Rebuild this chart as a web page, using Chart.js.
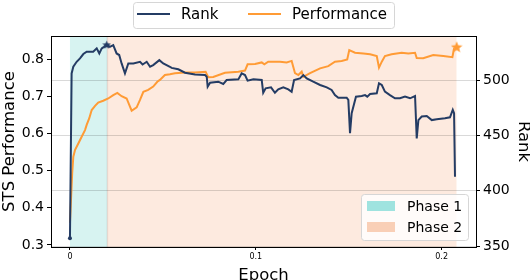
<!DOCTYPE html>
<html>
<head>
<meta charset="utf-8">
<script src="https://cdn.jsdelivr.net/npm/chart.js@4"></script>
<style>
    html, body { margin: 0; padding: 0; background: #fff; }
    #chart { display: block; }
</style>
</head>
<body>
<canvas id="chart" width="530" height="280"></canvas>
<script>
// values
const rankEpoch = [0, 0.0009, 0.0018, 0.0036, 0.0054, 0.0072, 0.0090, 0.0125, 0.0144, 0.0158, 0.0171, 0.0183, 0.0198,
    0.0215, 0.0233, 0.0251, 0.0265, 0.0278, 0.0296, 0.0314, 0.0341, 0.0377, 0.0391, 0.0413, 0.0431, 0.0448, 0.0481,
    0.0502, 0.0538, 0.0547, 0.0583, 0.0619, 0.0673, 0.0727, 0.0736, 0.0741, 0.0754, 0.0798, 0.0825, 0.0843, 0.0906,
    0.0924, 0.0942, 0.0956, 0.0987, 0.1032, 0.1040, 0.1053, 0.1082, 0.1103, 0.1121, 0.1148, 0.1175, 0.1193, 0.1206,
    0.1238, 0.1256, 0.1274, 0.1309, 0.1346, 0.1382, 0.1408, 0.1426, 0.1444, 0.1489, 0.1498, 0.1507, 0.1516, 0.1539,
    0.1570, 0.1588, 0.1600, 0.1615, 0.1651, 0.1663, 0.1678, 0.1695, 0.1722, 0.1749, 0.1776, 0.1803, 0.1830, 0.1857,
    0.1866, 0.1875, 0.1893, 0.1920, 0.1947, 0.1974, 0.2018, 0.2045, 0.2060, 0.2067, 0.2072];
const rankValues = [357, 506, 512, 516.5, 519.6, 523.5, 525.6, 525.6, 528.6, 524, 528.6, 530, 532,
    530, 531.6, 524, 522.6, 515, 506, 515, 515, 516.5, 514, 516.5, 512, 513.5, 518,
    515, 512, 511, 509.7, 506.6, 505, 504.5, 503, 494, 497.6, 498.5, 496.4, 500, 500.6,
    506, 504.5, 499.4, 500.6, 500, 488.5, 492.5, 493.4, 488.5, 491.6, 493.4, 491.6, 489.4, 500,
    501.5, 504.5, 501.5, 498.5, 495.5, 493.4, 491, 486.4, 484, 484, 482, 452, 470, 485,
    485.5, 486.4, 485, 487.4, 488, 497, 495.5, 489.5, 486.4, 483.5, 483.5, 485, 483.5, 485.5,
    447.3, 463.8, 467, 467.5, 463.8, 464.5, 465.4, 466.3, 473, 470, 412.6];

const perfEpoch = [0, 0.0012, 0.0018, 0.0027, 0.0045, 0.0063, 0.0081, 0.0090, 0.0104, 0.0117, 0.0135, 0.0152,
    0.0179, 0.0206, 0.0233, 0.0255, 0.0278, 0.0305, 0.0323, 0.0332, 0.0359, 0.0377, 0.0395, 0.0421, 0.0448,
    0.0470, 0.0484, 0.0511, 0.0538, 0.0565, 0.0619, 0.0673, 0.0730, 0.0744, 0.0771, 0.0834, 0.0906, 0.0942,
    0.0956, 0.0996, 0.1032, 0.1046, 0.1067, 0.1130, 0.1166, 0.1193, 0.1211, 0.1229, 0.1247, 0.1256, 0.1292,
    0.1346, 0.1390, 0.1426, 0.1462, 0.1492, 0.1503, 0.1534, 0.1579, 0.1615, 0.1651, 0.1663, 0.1678, 0.1695,
    0.1731, 0.1785, 0.1821, 0.1857, 0.1866, 0.1901, 0.1955, 0.2009, 0.2058, 0.2067];
const perfValues = [0.36, 0.493, 0.537, 0.555, 0.573, 0.591, 0.609, 0.623, 0.641, 0.663, 0.674, 0.683,
    0.688, 0.694, 0.703, 0.709, 0.700, 0.694, 0.672, 0.661, 0.670, 0.690, 0.712, 0.717, 0.726,
    0.739, 0.744, 0.757, 0.759, 0.762, 0.764, 0.764, 0.766, 0.751, 0.752, 0.763, 0.766, 0.769,
    0.786, 0.787, 0.791, 0.786, 0.793, 0.793, 0.791, 0.795, 0.762, 0.757, 0.766, 0.752, 0.762,
    0.775, 0.781, 0.793, 0.795, 0.799, 0.824, 0.817, 0.815, 0.813, 0.808, 0.777, 0.793, 0.808,
    0.813, 0.817, 0.815, 0.817, 0.803, 0.802, 0.811, 0.808, 0.805, 0.829];

// marked points: rank peak and final performance
const rankPeakEpoch = [0.0198];
const rankPeakValue = [532];
const perfBestEpoch = [0.2081];
const perfBestValue = [0.833];

const epochTicks = [0, 0.1, 0.2];
const perfTicks = [0.3, 0.4, 0.5, 0.6, 0.7, 0.8];
const rankTicks = [350, 400, 450, 500];

const seriesLabels = ['Rank', 'Performance'];
const phaseLabels = ['Phase 1', 'Phase 2'];
const phaseStart = [0, 0.02];
const phaseEnd = [0.02, 0.208];

const NAVY = '#243c64';
const ORANGE = '#ff9b35';
const PHASE_FILL = ['#d7f3f1', '#fdeadf'];
const PHASE_SWATCH = ['#9fe3df', '#f9cfb6'];
const FONT = "'DejaVu Sans', sans-serif";

function toPoints(xs, ys) {
    return xs.map((x, i) => ({ x: x, y: ys[i] }));
}

// filled five point star for the marker points
function starImage(size, color) {
    const c = document.createElement('canvas');
    c.width = size;
    c.height = size;
    const g = c.getContext('2d');
    const r = size / 2;
    g.beginPath();
    for (let i = 0; i < 10; i++) {
        const rad = i % 2 === 0 ? r : r * 0.45;
        const a = -Math.PI / 2 + i * Math.PI / 5;
        const px = r + rad * Math.cos(a);
        const py = r + rad * Math.sin(a) + size * 0.05;
        if (i === 0) g.moveTo(px, py); else g.lineTo(px, py);
    }
    g.closePath();
    g.fillStyle = color;
    g.fill();
    return c;
}

function fixTicks(values) {
    return scale => { scale.ticks = values.map(v => ({ value: v })); };
}

const decorations = {
    id: 'decorations',
    beforeDraw(chart) {
        const { ctx, chartArea: a, scales } = chart;
        ctx.save();
        phaseStart.forEach((s, i) => {
            const x0 = scales.x.getPixelForValue(s);
            const x1 = scales.x.getPixelForValue(phaseEnd[i]);
            ctx.fillStyle = PHASE_FILL[i];
            ctx.fillRect(x0, a.top, x1 - x0, a.bottom - a.top);
        });
        // faint edge where the two phases meet
        ctx.fillStyle = 'rgba(120,120,120,0.18)';
        ctx.fillRect(scales.x.getPixelForValue(phaseEnd[0]) - 0.5, a.top, 1.5, a.bottom - a.top);
        ctx.restore();
    },
    afterDraw(chart) {
        const { ctx, chartArea: a } = chart;
        ctx.save();
        // top spine
        ctx.strokeStyle = '#000';
        ctx.lineWidth = 1;
        ctx.beginPath();
        ctx.moveTo(a.left, a.top + 0.5);
        ctx.lineTo(a.right + 0.5, a.top + 0.5);
        ctx.stroke();

        // series legend above the plot
        ctx.fillStyle = 'rgba(255,255,255,0.8)';
        ctx.strokeStyle = '#d6d6d6';
        ctx.beginPath();
        ctx.roundRect(133.5, 2.5, 261, 26, 3);
        ctx.fill();
        ctx.stroke();
        const colors = [NAVY, ORANGE];
        const itemX = [137, 248];
        ctx.font = '15px ' + FONT;
        ctx.textBaseline = 'middle';
        seriesLabels.forEach((label, i) => {
            ctx.strokeStyle = colors[i];
            ctx.lineWidth = 2;
            ctx.beginPath();
            ctx.moveTo(itemX[i], 14);
            ctx.lineTo(itemX[i] + 33, 14);
            ctx.stroke();
            ctx.fillStyle = '#000';
            ctx.fillText(label, itemX[i] + 44, 15);
        });

        // phase legend, lower right inside the plot
        const bx = a.right - 115, by = a.bottom - 53;
        ctx.fillStyle = 'rgba(255,255,255,0.8)';
        ctx.strokeStyle = '#d6d6d6';
        ctx.lineWidth = 1;
        ctx.beginPath();
        ctx.roundRect(bx + 0.5, by + 0.5, 107, 46, 3);
        ctx.fill();
        ctx.stroke();
        ctx.font = '14px ' + FONT;
        phaseLabels.forEach((label, i) => {
            const y = by + 7 + i * 21;
            ctx.fillStyle = PHASE_SWATCH[i];
            ctx.fillRect(bx + 6, y, 28, 10);
            ctx.fillStyle = '#000';
            ctx.fillText(label, bx + 46, y + 6);
        });
        ctx.restore();
    }
};

new Chart(document.getElementById('chart'), {
    type: 'line',
    data: {
        datasets: [
            {
                label: 'rank peak',
                data: toPoints(rankPeakEpoch, rankPeakValue),
                yAxisID: 'y1',
                showLine: false,
                pointStyle: starImage(9, NAVY),
                pointRadius: 5
            },
            {
                label: seriesLabels[0],
                data: toPoints(rankEpoch, rankValues),
                yAxisID: 'y1',
                borderColor: NAVY,
                borderWidth: 2,
                pointRadius: 0,
                tension: 0
            },
            {
                label: seriesLabels[1],
                data: toPoints(perfEpoch, perfValues),
                yAxisID: 'y',
                borderColor: ORANGE,
                borderWidth: 2,
                pointRadius: 0,
                tension: 0
            },
            {
                label: 'rank start',
                data: toPoints([rankEpoch[0]], [rankValues[0]]),
                yAxisID: 'y1',
                showLine: false,
                pointRadius: 2,
                backgroundColor: NAVY,
                borderWidth: 0
            },
            {
                label: 'best performance',
                data: toPoints(perfBestEpoch, perfBestValue),
                yAxisID: 'y',
                showLine: false,
                pointStyle: starImage(12, ORANGE),
                pointRadius: 6
            }
        ]
    },
    options: {
        responsive: false,
        animation: false,
        devicePixelRatio: 1,
        layout: { padding: { top: 36, left: 0, right: 0, bottom: 0 } },
        plugins: {
            legend: { display: false },
            tooltip: { enabled: false }
        },
        scales: {
            x: {
                type: 'linear',
                min: -0.0102,
                max: 0.2185,
                afterBuildTicks: fixTicks(epochTicks),
                afterFit: s => { s.height = 33; s.paddingLeft = 0; s.paddingRight = 0; },
                ticks: {
                    color: '#000',
                    font: { family: FONT, size: 8 },
                    padding: 2,
                    maxRotation: 0,
                    callback: v => String(v)
                },
                grid: { drawOnChartArea: false, tickLength: 3, tickColor: '#000' },
                border: { color: '#000', width: 1 },
                title: {
                    display: true,
                    text: 'Epoch',
                    color: '#000',
                    font: { family: FONT, size: 16.5 },
                    padding: { top: 0, bottom: -6 }
                }
            },
            y: {
                type: 'linear',
                position: 'left',
                min: 0.2946,
                max: 0.862,
                afterBuildTicks: fixTicks(perfTicks),
                afterFit: s => { s.width = 51; s.paddingTop = 0; s.paddingBottom = 0; },
                ticks: {
                    color: '#000',
                    font: { family: FONT, size: 14 },
                    padding: 3,
                    callback: v => v.toFixed(1)
                },
                grid: { drawOnChartArea: false, tickLength: 4, tickColor: '#000' },
                border: { color: '#000', width: 1 },
                title: {
                    display: true,
                    text: 'STS Performance',
                    color: '#000',
                    font: { family: FONT, size: 16.5 },
                    padding: { top: 0, bottom: 0 }
                }
            },
            y1: {
                type: 'linear',
                position: 'right',
                min: 349.1,
                max: 539.8,
                afterBuildTicks: fixTicks(rankTicks),
                afterFit: s => { s.width = 54; s.paddingTop = 0; s.paddingBottom = 0; },
                ticks: {
                    color: '#000',
                    font: { family: FONT, size: 14 },
                    padding: 3,
                    callback: v => String(v)
                },
                grid: { color: 'rgba(0,0,0,0.15)', lineWidth: 1, tickLength: 4, tickColor: '#000' },
                border: { color: '#000', width: 1 },
                title: {
                    display: true,
                    text: 'Rank',
                    color: '#000',
                    font: { family: FONT, size: 16.5 },
                    padding: { top: -3, bottom: 0 }
                }
            }
        }
    },
    plugins: [decorations]
});
</script>
</body>
</html>
